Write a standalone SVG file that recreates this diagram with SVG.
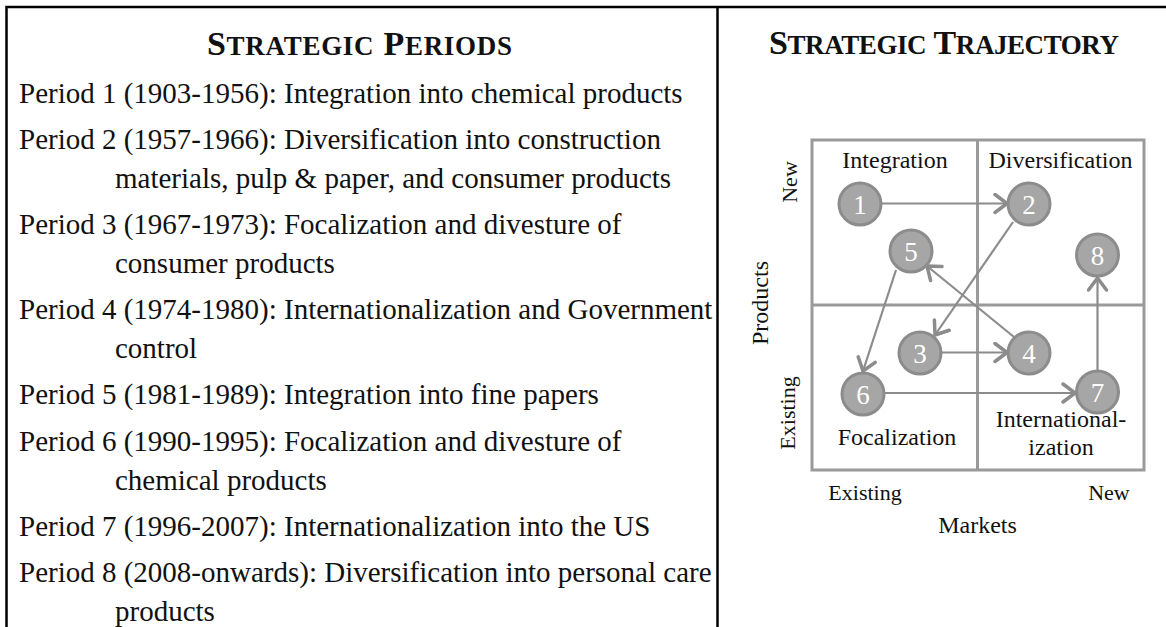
<svg xmlns="http://www.w3.org/2000/svg" width="1166" height="627" viewBox="0 0 1166 627">
<style>
.t{font-family:"Liberation Serif","Times New Roman",serif;fill:#111}
.body{font-size:29px}
.head{font-size:34px;font-weight:bold}
.sc{font-size:27px}
.q{font-size:24px}
.ax{font-size:22px}
.num{font-family:"Liberation Serif","Times New Roman",serif;font-size:27px;fill:#fff;text-anchor:middle}
.node{fill:#a6a6a6;stroke:#8c8c8c;stroke-width:3}
.grid{fill:none;stroke:#9a9a9a;stroke-width:3}
.conn{stroke:#8c8c8c;stroke-width:2.2;fill:none;marker-end:url(#ah)}
.border{stroke:#000;stroke-width:2.5;fill:none}
</style>
<defs>
<marker id="ah" markerUnits="userSpaceOnUse" viewBox="0 0 16 22" refX="14" refY="11" markerWidth="16" markerHeight="22" orient="auto">
<path d="M2,2 L14,11 L2,20" fill="none" stroke="#8c8c8c" stroke-width="3.5" stroke-linecap="round" stroke-linejoin="round"/>
</marker>
</defs>
<rect x="0" y="0" width="1166" height="627" fill="#fff"/>
<g id="borders">
<path class="border" d="M6.5,627 V7 H1166 M717.5,7 V627"/>
</g>
<g id="periods" class="t">
<text class="head" x="207" y="55" textLength="305" lengthAdjust="spacing">S<tspan class="sc">TRATEGIC</tspan> P<tspan class="sc">ERIODS</tspan></text>
<text class="body" x="19" y="103">Period 1 (1903-1956): Integration into chemical products</text>
<text class="body" x="19" y="149">Period 2 (1957-1966): Diversification into construction</text>
<text class="body" x="115" y="188">materials, pulp &amp; paper, and consumer products</text>
<text class="body" x="19" y="234">Period 3 (1967-1973): Focalization and divesture of</text>
<text class="body" x="115" y="273">consumer products</text>
<text class="body" x="19" y="319">Period 4 (1974-1980): Internationalization and Government</text>
<text class="body" x="115" y="358">control</text>
<text class="body" x="19" y="404">Period 5 (1981-1989): Integration into fine papers</text>
<text class="body" x="19" y="451">Period 6 (1990-1995): Focalization and divesture of</text>
<text class="body" x="115" y="490">chemical products</text>
<text class="body" x="19" y="536">Period 7 (1996-2007): Internationalization into the US</text>
<text class="body" x="19" y="582">Period 8 (2008-onwards): Diversification into personal care</text>
<text class="body" x="115" y="621">products</text>
</g>
<g id="trajectory" class="t">
<text class="head" x="769" y="54" textLength="350" lengthAdjust="spacing">S<tspan class="sc">TRATEGIC</tspan> T<tspan class="sc">RAJECTORY</tspan></text>
<rect class="grid" x="812" y="140" width="332" height="330"/>
<path class="grid" d="M977.5,140 V470 M812,305 H1144"/>
<text class="q" x="895" y="168" text-anchor="middle">Integration</text>
<text class="q" x="1060.5" y="168" text-anchor="middle">Diversification</text>
<text class="q" x="897" y="445" text-anchor="middle">Focalization</text>
<text class="q" x="1061" y="427" text-anchor="middle">International-</text>
<text class="q" x="1061" y="455" text-anchor="middle">ization</text>
<text class="ax" transform="translate(797,182) rotate(-90)" text-anchor="middle">New</text>
<text class="q" transform="translate(768,303) rotate(-90)" text-anchor="middle">Products</text>
<text class="ax" transform="translate(795,413) rotate(-90)" text-anchor="middle">Existing</text>
<text class="ax" x="865" y="500" text-anchor="middle">Existing</text>
<text class="ax" x="1109" y="500" text-anchor="middle">New</text>
<text class="q" x="977.5" y="533" text-anchor="middle">Markets</text>
</g>
<g id="connectors">
<line class="conn" x1="881" y1="203.5" x2="1007" y2="203.5"/>
<line class="conn" x1="1013" y1="222" x2="935" y2="335"/>
<line class="conn" x1="1014" y1="337" x2="927" y2="266"/>
<line class="conn" x1="896" y1="270" x2="863" y2="371"/>
<line class="conn" x1="941" y1="352.5" x2="1007" y2="352.5"/>
<line class="conn" x1="884" y1="393" x2="1075" y2="393"/>
<line class="conn" x1="1097.5" y1="371" x2="1097.5" y2="278"/>
</g>
<g id="node1"><circle class="node" cx="860" cy="204" r="21"/><text class="num" x="860" y="213.5">1</text></g>
<g id="node2"><circle class="node" cx="1029" cy="204" r="21"/><text class="num" x="1029" y="213.5">2</text></g>
<g id="node3"><circle class="node" cx="920" cy="353" r="21"/><text class="num" x="920" y="362.5">3</text></g>
<g id="node4"><circle class="node" cx="1029" cy="353" r="21"/><text class="num" x="1029" y="362.5">4</text></g>
<g id="node5"><circle class="node" cx="911" cy="251" r="21"/><text class="num" x="911" y="260.5">5</text></g>
<g id="node6"><circle class="node" cx="863" cy="394" r="21"/><text class="num" x="863" y="403.5">6</text></g>
<g id="node7"><circle class="node" cx="1097.5" cy="392" r="21"/><text class="num" x="1097.5" y="401.5">7</text></g>
<g id="node8"><circle class="node" cx="1097.5" cy="255" r="21"/><text class="num" x="1097.5" y="264.5">8</text></g>
</svg>
